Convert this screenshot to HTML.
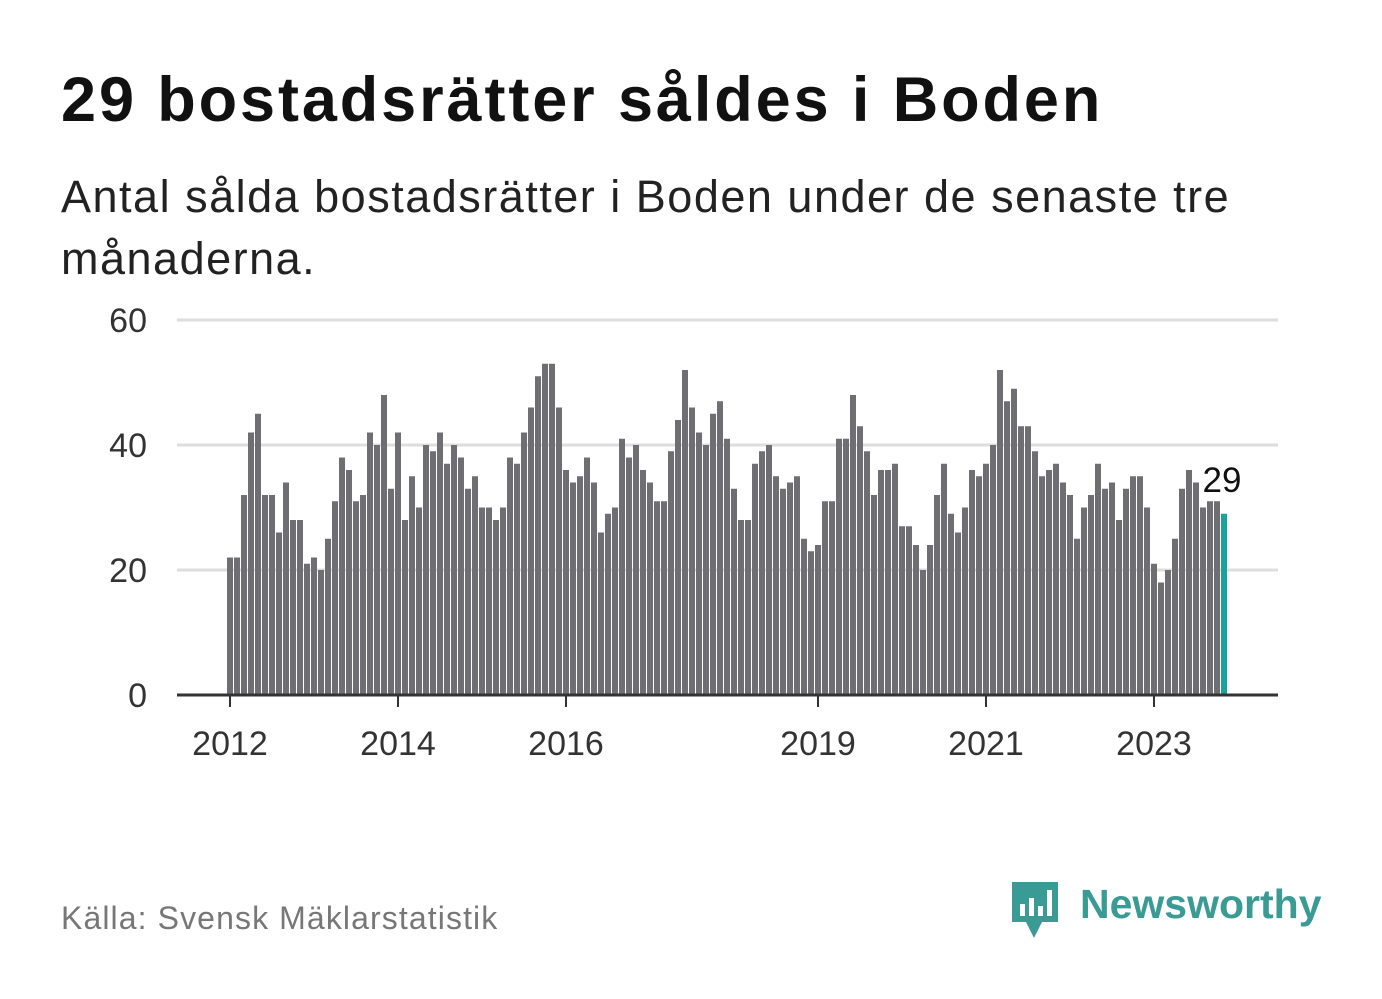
<!DOCTYPE html>
<html><head><meta charset="utf-8"><style>
body{margin:0;background:#fff;width:1382px;height:999px;overflow:hidden;font-family:"Liberation Sans","DejaVu Sans",sans-serif;}
#title{position:absolute;left:61px;top:64px;font-size:63px;font-weight:bold;color:#111;margin:0;letter-spacing:2.9px;white-space:nowrap}
#sub{position:absolute;left:61px;top:166px;font-size:45px;color:#222;line-height:62px;width:1210px;margin:0;letter-spacing:1.5px}
#src{position:absolute;left:61px;top:900px;font-size:32px;color:#777;letter-spacing:1.1px}
#logo{position:absolute;left:1010px;top:878px}
</style></head><body>
<h1 id="title">29 bostadsrätter såldes i Boden</h1>
<p id="sub">Antal sålda bostadsrätter i Boden under de senaste tre månaderna.</p>
<svg id="chart" width="1382" height="999" style="position:absolute;left:0;top:0"></svg>
<div id="src">Källa: Svensk Mäklarstatistik</div>
<svg id="logo" width="320" height="64">
<path d="M2 4 h46 v40 h-16 l-8 16 l-8 -16 h-14 z" fill="#3a9a94"/>
<rect x="10" y="26" width="5" height="12" fill="#fff"/><rect x="19" y="20" width="5" height="18" fill="#fff"/><rect x="28" y="28" width="5" height="10" fill="#fff"/><rect x="37" y="12" width="5" height="26" fill="#fff"/>
<text x="70" y="40" font-size="41" font-weight="bold" fill="#3a9a94" font-family="Liberation Sans, sans-serif">Newsworthy</text>
</svg>
<script>
const values=[22,22,32,42,45,32,32,26,34,28,28,21,
22,20,25,31,38,36,31,32,42,40,48,33,
42,28,35,30,40,39,42,37,40,38,33,35,
30,30,28,30,38,37,42,46,51,53,53,46,
36,34,35,38,34,26,29,30,41,38,40,36,
34,31,31,39,44,52,46,42,40,45,47,41,
33,28,28,37,39,40,35,33,34,35,25,23,
24,31,31,41,41,48,43,39,32,36,36,37,
27,27,24,20,24,32,37,29,26,30,36,35,
37,40,52,47,49,43,43,39,35,36,37,34,
32,25,30,32,37,33,34,28,33,35,35,30,
21,18,20,25,33,36,34,30,31,31,29];
const yTicks=[0,20,40,60];
const xTickYears=[2012,2014,2016,2019,2021,2023];
const svg=document.getElementById('chart');
const NS='http://www.w3.org/2000/svg';
const x0=177,x1=1278,y0=695,yTop=320;
const monthX=i=>227+7*i;
const yS=v=>y0-(v/60)*(y0-yTop);
function mk(t,a){const e=document.createElementNS(NS,t);for(const k in a)e.setAttribute(k,a[k]);svg.appendChild(e);return e;}
yTicks.forEach(t=>{
 if(t>0){const g=mk('line',{x1:x0,x2:x1,y1:yS(t),y2:yS(t),stroke:'#ddd','stroke-width':3});
 
 }
 const l=mk('text',{x:147,y:yS(t)+12,'text-anchor':'end','font-size':34,fill:'#333'});l.textContent=t;
 
 
});
values.forEach((v,i)=>{
 const last=i===values.length-1;
 const r=mk('rect',{x:monthX(i),y:yS(v),width:6,height:y0-yS(v),fill:last?'#1aa39a':'#6f6e73'});
 
 
});
const li=values.length-1;
const lab=mk('text',{x:monthX(li)+1,y:yS(values[li])-22,'text-anchor':'middle','font-size':35,fill:'#111'});
lab.textContent=values[li];


const ax=mk('line',{x1:x0,x2:x1,y1:y0,y2:y0,stroke:'#333','stroke-width':3});


xTickYears.forEach(yr=>{
 const x=monthX((yr-2012)*12)+3;
 const tk=mk('line',{x1:x,x2:x,y1:y0,y2:y0+12,stroke:'#333','stroke-width':2});
 
 
 const t=mk('text',{x:x,y:755,'text-anchor':'middle','font-size':34,fill:'#333'});t.textContent=yr;
 
 
});
</script>
</body></html>
